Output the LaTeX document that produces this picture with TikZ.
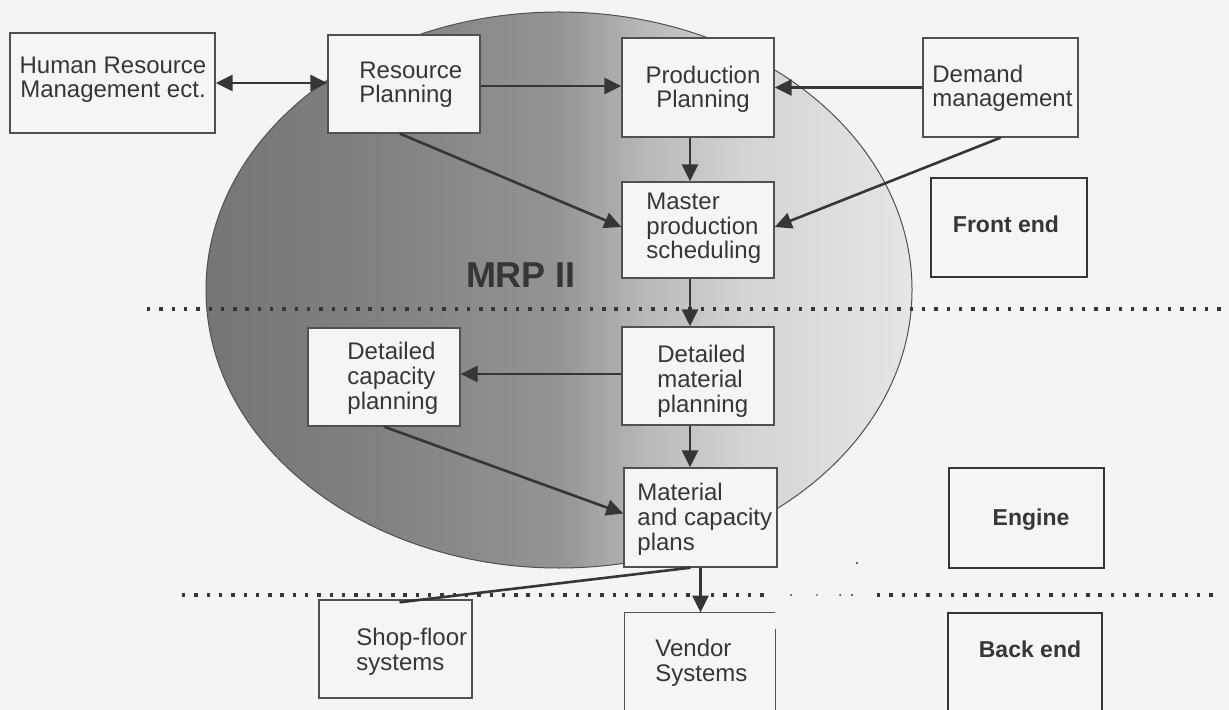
\documentclass[tikz,border=0pt]{standalone}
\usepackage{fontspec}
\setmainfont{Liberation Sans}
\usetikzlibrary{arrows.meta,fit,calc}
\definecolor{bg}{HTML}{F4F4F2}
\definecolor{boxbg}{HTML}{F5F5F3}
\definecolor{ink}{HTML}{363636}
\definecolor{edgec}{HTML}{505050}
\definecolor{sa}{gray}{0.46}
\definecolor{sb}{gray}{0.51}
\definecolor{sc}{gray}{0.58}
\definecolor{sd}{gray}{0.72}
\definecolor{se}{gray}{0.83}
\definecolor{sf}{gray}{0.90}
\pgfdeclarehorizontalshading{mrp}{100bp}{color(0bp)=(sa); color(25bp)=(sa); color(38bp)=(sb); color(50bp)=(sc); color(56bp)=(sd); color(63bp)=(se); color(75bp)=(sf); color(100bp)=(sf)}
\tikzset{
  box/.style={draw=edgec, fill=boxbg, line width=0.7pt, inner sep=0pt},
  heavybox/.style={draw=ink, fill=boxbg, line width=1.4pt, inner sep=0pt},
  txt/.style={font=\fontsize{12}{12.3}\selectfont, text=ink, inner sep=0pt, align=left},
  boldtxt/.style={font=\bfseries\fontsize{11.5}{12}\selectfont, text=ink, inner sep=0pt},
  arr/.style={draw=ink, line width=1.3pt, -{Triangle[length=8.5pt,width=8pt]}},
  darr/.style={draw=ink, line width=1.3pt, {Triangle[length=8.5pt,width=8pt]}-{Triangle[length=8.5pt,width=8pt]}},
  plain/.style={draw=ink, line width=1.3pt},
  dotline/.style={draw=ink, line width=1.7pt, dash pattern=on 1.7pt off 4.45pt}
}
\begin{document}
\begin{tikzpicture}[x=0.5pt,y=-0.5pt]
\useasboundingbox (0,0) rectangle (1229,710);
\clip (0,0) rectangle (1229,710);
\fill[bg] (0,0) rectangle (1229,710);
% MRP II ellipse
\shade[shading=mrp] (559,290) ellipse [x radius=176.5pt, y radius=139pt];
\draw[line width=0.5pt, edgec] (559,290) ellipse [x radius=176.5pt, y radius=139pt];
\node[font=\bfseries\fontsize{18}{20}\selectfont, text=ink, inner sep=0pt, anchor=base] (mrp) at (521,288) {MRP II};
% dotted separators
\draw[dotline] (147,309) -- (1229,309);
\draw[dotline] (182,595) -- (772,595);
\draw[dotline] (877,595) -- (1213,595);
\fill[ink] (791,595) circle[radius=0.5pt];
\fill[ink] (817,595) circle[radius=0.4pt];
\fill[ink] (840,595) circle[radius=0.5pt];
\fill[ink] (852,595) circle[radius=0.6pt];
\fill[ink] (857,563) circle[radius=0.6pt];
% boxes
\node[box, fit={(10,33) (215,133)}] (hrm) {};
\node[box, fit={(328,35) (480,133)}] (rp) {};
\node[box, fit={(622,38) (774,137)}] (pp) {};
\node[box, fit={(923,38) (1078,137)}] (dm) {};
\node[box, fit={(622,182) (774,278)}] (mps) {};
\node[heavybox, fit={(931,178) (1087,277)}] (fe) {};
\node[box, fit={(308,328) (460,426)}] (dcp) {};
\node[box, fit={(622,327) (774,425)}] (dmp) {};
\node[box, fit={(624,468) (777,567)}] (mcp) {};
\node[heavybox, fit={(949,468) (1104,568)}] (eng) {};
\node[box, fit={(319,600) (472,698)}] (sfs) {};
\node[fill=boxbg, inner sep=0pt, fit={(625,613) (775,720)}] (vendor) {};
\node[heavybox, fit={(948,613) (1102,730)}] (be) {};
% partial outline of vendor box
\draw[edgec, line width=0.7pt] (vendor.south west) -- (vendor.north west) -- (vendor.north east);
\draw[edgec, line width=0.7pt] ([yshift=-8pt]vendor.north east) -- (vendor.south east);
% texts (anchor = baseline of last line)
\node[txt, align=center, anchor=base] (hrm-t) at (113,98) {Human Resource\\Management ect.};
\node[txt, anchor=base west] (rp-t) at (359,103) {Resource\\Planning};
\node[txt, align=center, anchor=base] (pp-t) at (703,108) {Production\\Planning};
\node[txt, anchor=base west] (dm-t) at (932,107) {Demand\\management};
\node[txt, anchor=base west] (mps-t) at (646,259) {Master\\production\\scheduling};
\node[boldtxt, anchor=base] (fe-t) at (1006,233) {Front end};
\node[txt, anchor=base west] (dcp-t) at (347,409) {Detailed\\capacity\\planning};
\node[txt, anchor=base west] (dmp-t) at (657,412) {Detailed\\material\\planning};
\node[txt, anchor=base west] (mcp-t) at (637,550) {Material\\and capacity\\plans};
\node[boldtxt, anchor=base] (eng-t) at (1031,525) {Engine};
\node[txt, anchor=base west] (sfs-t) at (356,670) {Shop-floor\\systems};
\node[txt, anchor=base west] (vendor-t) at (655,681) {Vendor\\Systems};
\node[boldtxt, anchor=base] (be-t) at (1030,657) {Back end};
% connectors
\draw[darr] (hrm.east) -- (hrm.east -| rp.west);
\draw[arr] ([yshift=-1pt]rp.east) -- ([yshift=-1pt]rp.east -| pp.west);
\draw[arr] (dm.west) -- (dm.west -| pp.east);
\draw[arr] ([xshift=-4pt]pp.south) -- ([xshift=-4pt]pp.south |- mps.north);
\draw[arr] ([xshift=-2pt]rp.south) -- ([yshift=1.5pt]mps.west);
\draw[arr] (dm.south) -- ([yshift=1.5pt]mps.east);
\draw[arr] ([xshift=-4pt]mps.south) -- ([xshift=-4pt]mps.south |- dmp.north);
\draw[arr] ([yshift=1pt]dmp.west) -- ([yshift=1pt]dmp.west -| dcp.east);
\draw[arr] ([xshift=-4pt]dmp.south) -- ([xshift=-4pt]dmp.south |- mcp.north);
\draw[arr] (dcp.south) -- ([yshift=2pt]mcp.west);
\draw[arr] (mcp.south) -- (mcp.south |- vendor.north);
\draw[plain] ([xshift=-5pt]mcp.south) -- ([xshift=2pt,yshift=-1.5pt]sfs.north);
\end{tikzpicture}
\end{document}
